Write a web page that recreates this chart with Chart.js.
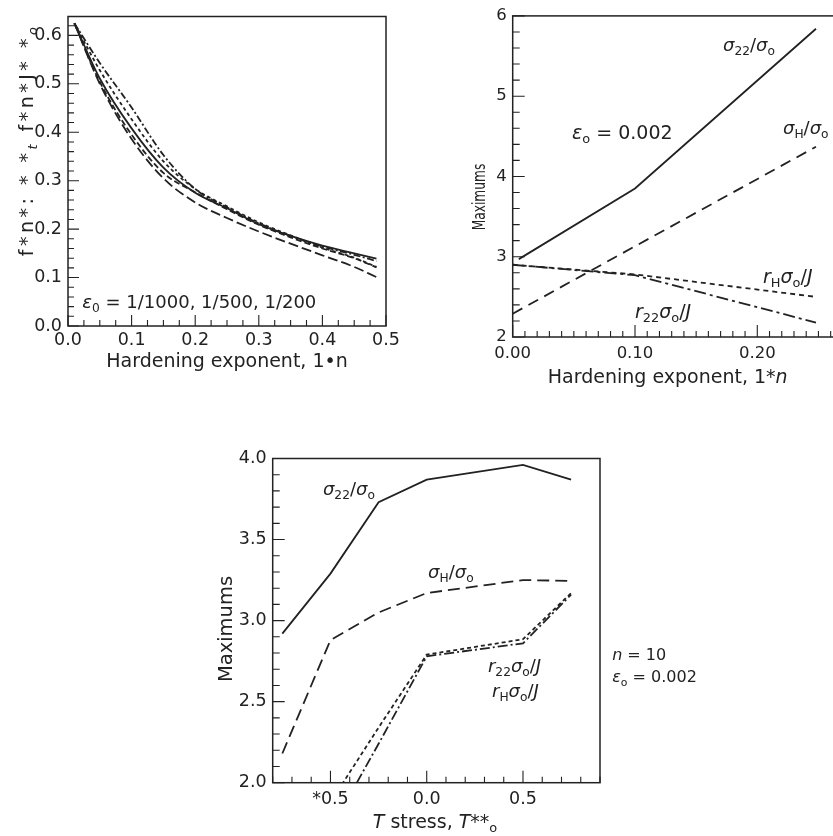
<!DOCTYPE html>
<html>
<head>
<meta charset="utf-8">
<script src="https://cdn.jsdelivr.net/npm/chart.js@4.4.0/dist/chart.umd.min.js"></script>
<style>
  html, body { margin: 0; padding: 0; background: #fff; overflow: hidden; }
  #page { position: relative; width: 833px; height: 836px; overflow: hidden; background: #fff; }
  .panel { position: absolute; }
</style>
</head>
<body>
<div id="page">
  <div class="panel" style="left:0;top:0;width:420px;height:390px"><canvas id="c1"></canvas></div>
  <div class="panel" style="left:420px;top:0;width:440px;height:390px"><canvas id="c2"></canvas></div>
  <div class="panel" style="left:180px;top:420px;width:540px;height:416px"><canvas id="c3"></canvas></div>
</div>
<script>
// ---- top left: normalised value vs hardening exponent ----
const nHard1   = [0.01, 0.05, 0.1, 0.15, 0.2, 0.25, 0.3, 0.35, 0.4, 0.45, 0.485];
const f1Solid  = [0.625, 0.511, 0.408, 0.327, 0.275, 0.243, 0.210, 0.186, 0.166, 0.150, 0.139];
const f1DashDt = [0.625, 0.543, 0.451, 0.353, 0.283, 0.245, 0.212, 0.186, 0.164, 0.147, 0.134];
const f1Short  = [0.625, 0.528, 0.427, 0.340, 0.283, 0.247, 0.214, 0.187, 0.162, 0.141, 0.122];
const f1Medium = [0.625, 0.504, 0.395, 0.316, 0.276, 0.241, 0.209, 0.183, 0.160, 0.140, 0.121];
const f1Long   = [0.625, 0.500, 0.386, 0.305, 0.255, 0.223, 0.195, 0.170, 0.146, 0.122, 0.101];
const x1Ticks  = [0, 0.1, 0.2, 0.3, 0.4, 0.5];
const x1Labels = ['0.0', '0.1', '0.2', '0.3', '0.4', '0.5'];
const y1Ticks  = [0, 0.1, 0.2, 0.3, 0.4, 0.5, 0.6];
const y1Labels = ['0.0', '0.1', '0.2', '0.3', '0.4', '0.5', '0.6'];

// ---- top right: maximums vs hardening exponent ----
const nHard2      = [0.0, 0.1, 0.248];
const nHard2Sigma = [0.005, 0.1, 0.248];
const s22Max = [2.97, 3.85, 5.84];
const sHMax  = [2.29, 3.13, 4.37];
const r22Max = [2.90, 2.77, 2.18];
const rHMax  = [2.90, 2.78, 2.50];
const x2Ticks  = [0, 0.1, 0.2];
const x2Labels = ['0.00', '0.10', '0.20'];
const y2Ticks  = [2, 3, 4, 5, 6];
const y2Labels = ['2', '3', '4', '5', '6'];

// ---- bottom: maximums vs T stress ----
const tStress  = [-0.75, -0.5, -0.25, 0, 0.5, 0.75];
const s22T     = [2.92, 3.29, 3.73, 3.87, 3.96, 3.87];
const sHT      = [2.18, 2.88, 3.05, 3.17, 3.25, 3.245];
const tStressR = [-0.5, -0.25, 0, 0.5, 0.75];
const r22T     = [1.71, 2.24, 2.78, 2.86, 3.16];
const rHT      = [1.88, 2.34, 2.79, 2.885, 3.17];
const x3Ticks  = [-0.5, 0, 0.5];
const x3Labels = ['*0.5', '0.0', '0.5'];
const y3Ticks  = [2, 2.5, 3, 3.5, 4];
const y3Labels = ['2.0', '2.5', '3.0', '3.5', '4.0'];

const ink = '#222';
const FONT = 'DejaVu Sans';

function pts(xs, ys) {
  return xs.map((x, i) => ({ x: x, y: ys[i] }));
}

function line(data, dash, extra) {
  return Object.assign({
    data: data, borderColor: ink, borderWidth: 1.8, borderDash: dash || [],
    pointRadius: 0, fill: false, tension: 0
  }, extra || {});
}

// text with italic / subscript runs: parts = [[text, style]], style 'i', 's', 'si'
function rich(ctx, parts, x, y, size, align, family, spacing) {
  family = family || FONT;
  const fontOf = st => (st.includes('i') ? 'italic ' : '') +
    (st.includes('s') ? size * 0.68 : size) + 'px "' + family + '"';
  ctx.letterSpacing = (spacing || 0) + 'px';
  let w = 0;
  parts.forEach(([t, st = '']) => { ctx.font = fontOf(st); w += ctx.measureText(t).width; });
  let cx = align === 'center' ? x - w / 2 : x;
  ctx.textAlign = 'left';
  ctx.textBaseline = 'middle';
  parts.forEach(([t, st = '']) => {
    ctx.font = fontOf(st);
    ctx.fillText(t, cx, y + (st.includes('s') ? size * 0.3 : 0));
    cx += ctx.measureText(t).width;
  });
  ctx.letterSpacing = '0px';
}

// frame, inward tick marks, titles and curve labels
function decor(cfg) {
  return {
    id: 'decor',
    afterDatasetsDraw(chart) {
      const { ctx, chartArea: a } = chart;
      const xs = chart.scales.x, ys = chart.scales.y;
      ctx.save();
      ctx.strokeStyle = ink;
      ctx.fillStyle = ink;
      ctx.lineWidth = 1.5;
      ctx.strokeRect(a.left, a.top, a.right - a.left, a.bottom - a.top);
      ctx.beginPath();
      const marks = (sc, m, horiz) => {
        const k0 = Math.ceil(sc.min / m.step - 1e-6), k1 = Math.floor(sc.max / m.step + 1e-6);
        for (let k = k0; k <= k1; k++) {
          const p = sc.getPixelForValue(k * m.step);
          const L = k % m.every === 0 ? m.major : m.minor;
          if (horiz) { ctx.moveTo(p, a.bottom); ctx.lineTo(p, a.bottom - L); }
          else { ctx.moveTo(a.left, p); ctx.lineTo(a.left + L, p); }
        }
      };
      marks(xs, cfg.xMarks, true);
      marks(ys, cfg.yMarks, false);
      ctx.lineWidth = 1.1;
      ctx.stroke();
      cfg.notes.forEach(n => rich(ctx, n.parts, xs.getPixelForValue(n.x), ys.getPixelForValue(n.y), n.size, 'left'));
      cfg.titles.forEach(t => {
        ctx.save();
        ctx.translate(t.x, t.y);
        if (t.rot) ctx.rotate(-Math.PI / 2);
        if (t.squeeze) ctx.scale(t.squeeze, 1);
        rich(ctx, t.parts, 0, 0, t.size, 'center', t.family, t.spacing);
        ctx.restore();
      });
      ctx.restore();
    }
  };
}

function axis(min, max, vals, labels, size, pad, fit, horiz) {
  return {
    type: 'linear', min: min, max: max,
    grid: { display: false, drawTicks: false },
    border: { display: false },
    afterBuildTicks: s => { s.ticks = vals.map(v => ({ value: v })); },
    afterFit: s => { if (horiz) s.height = fit; else s.width = fit; },
    ticks: {
      autoSkip: false, maxRotation: 0, minRotation: 0, padding: pad, color: ink,
      font: { family: FONT, size: size },
      callback: v => labels[vals.findIndex(t => Math.abs(t - v) < 1e-9)]
    }
  };
}

function base(pad) {
  return {
    responsive: true, maintainAspectRatio: false, animation: false, events: [],
    layout: { autoPadding: false, padding: pad },
    plugins: { legend: { display: false }, tooltip: { enabled: false } }
  };
}

// chart 1
const o1 = base({ top: 10, left: 0, right: 34, bottom: 0 });
o1.scales = {
  x: axis(0, 0.5, x1Ticks, x1Labels, 17.5, 3.5, 64, true),
  y: axis(0, 0.639, y1Ticks, y1Labels, 17.5, 6, 68, false)
};
new Chart(document.getElementById('c1'), {
  type: 'line',
  data: { datasets: [
    line(pts(nHard1, f1Long), [10, 4], { cubicInterpolationMode: 'monotone' }),
    line(pts(nHard1, f1Medium), [6, 3], { cubicInterpolationMode: 'monotone' }),
    line(pts(nHard1, f1Solid), [], { cubicInterpolationMode: 'monotone' }),
    line(pts(nHard1, f1Short), [3.5, 3], { cubicInterpolationMode: 'monotone' }),
    line(pts(nHard1, f1DashDt), [7, 2.5, 2, 2.5], { cubicInterpolationMode: 'monotone' })
  ] },
  options: o1,
  plugins: [decor({
    xMarks: { step: 0.025, every: 4, minor: 6, major: 11 },
    yMarks: { step: 0.02, every: 5, minor: 6, major: 11 },
    notes: [
      { x: 0.0225, y: 0.046, size: 18, parts: [['ε', 'i'], ['0', 's'], [' = 1/1000, 1/500, 1/200']] }
    ],
    titles: [
      { x: 227, y: 362, size: 19, parts: [['Hardening exponent, 1•n']] },
      { x: 28, y: 140, size: 19, rot: true, spacing: 3.5,
        parts: [['f*n*: * *'], ['t', 'si'], [' f*n*J* *'], ['o', 'si']] }
    ]
  })]
});

// chart 2
const o2 = base({ top: 14, left: 0, right: 17.1, bottom: 0 });
o2.scales = {
  x: axis(0, 0.27, x2Ticks, x2Labels, 16.5, 7, 53, true),
  y: axis(2, 6, y2Ticks, y2Labels, 16.5, 6, 92.7, false)
};
new Chart(document.getElementById('c2'), {
  type: 'line',
  data: { datasets: [
    line(pts(nHard2Sigma, s22Max)),
    line(pts(nHard2, sHMax), [11, 7]),
    line(pts(nHard2, rHMax), [5, 4]),
    line(pts(nHard2, r22Max), [12, 4, 3, 4])
  ] },
  options: o2,
  plugins: [decor({
    xMarks: { step: 0.01, every: 10, minor: 6, major: 12 },
    yMarks: { step: 0.2, every: 5, minor: 7, major: 12 },
    notes: [
      { x: 0.172, y: 5.62, size: 18, parts: [['σ', 'i'], ['22', 's'], ['/'], ['σ', 'i'], ['o', 's']] },
      { x: 0.0485, y: 4.53, size: 19, parts: [['ε', 'i'], ['o', 's'], [' = 0.002']] },
      { x: 0.221, y: 4.59, size: 18, parts: [['σ', 'i'], ['H', 's'], ['/'], ['σ', 'i'], ['o', 's']] },
      { x: 0.2047, y: 2.74, size: 19, parts: [['r', 'i'], ['H', 's'], ['σ', 'i'], ['o', 's'], ['/'], ['J', 'i']] },
      { x: 0.10, y: 2.30, size: 19, parts: [['r', 'i'], ['22', 's'], ['σ', 'i'], ['o', 's'], ['/'], ['J', 'i']] }
    ],
    titles: [
      { x: 247.7, y: 378, size: 19, parts: [['Hardening exponent, 1*'], ['n', 'i']] },
      { x: 60, y: 197, size: 18, rot: true, squeeze: 0.68, parts: [['Maximums']] }
    ]
  })]
});

// chart 3
const o3 = base({ top: 38.5, left: 0, right: 120, bottom: 0 });
o3.scales = {
  x: axis(-0.8, 0.9, x3Ticks, x3Labels, 17.5, 6.5, 53.3, true),
  y: axis(2, 4, y3Ticks, y3Labels, 17.5, 6, 92.7, false)
};
new Chart(document.getElementById('c3'), {
  type: 'line',
  data: { datasets: [
    line(pts(tStress, s22T)),
    line(pts(tStress, sHT), [12, 6]),
    line(pts(tStressR, rHT), [4, 3]),
    line(pts(tStressR, r22T), [10, 3, 2, 3])
  ] },
  options: o3,
  plugins: [decor({
    xMarks: { step: 0.1, every: 5, minor: 6, major: 12 },
    yMarks: { step: 0.1, every: 5, minor: 7, major: 12 },
    notes: [
      { x: -0.539, y: 3.806, size: 18, parts: [['σ', 'i'], ['22', 's'], ['/'], ['σ', 'i'], ['o', 's']] },
      { x: 0.007, y: 3.294, size: 18, parts: [['σ', 'i'], ['H', 's'], ['/'], ['σ', 'i'], ['o', 's']] },
      { x: 0.318, y: 2.714, size: 18, parts: [['r', 'i'], ['22', 's'], ['σ', 'i'], ['o', 's'], ['/'], ['J', 'i']] },
      { x: 0.339, y: 2.56, size: 18, parts: [['r', 'i'], ['H', 's'], ['σ', 'i'], ['o', 's'], ['/'], ['J', 'i']] },
      { x: 0.963, y: 2.78, size: 16, parts: [['n', 'i'], [' = 10']] },
      { x: 0.963, y: 2.646, size: 16, parts: [['ε', 'i'], ['o', 's'], [' = 0.002']] }
    ],
    titles: [
      { x: 255, y: 403, size: 19, parts: [['T', 'i'], [' stress, '], ['T', 'i'], ['**'], ['o', 's']] },
      { x: 46.7, y: 209, size: 19.5, rot: true, parts: [['Maximums']] }
    ]
  })]
});
</script>
</body>
</html>
